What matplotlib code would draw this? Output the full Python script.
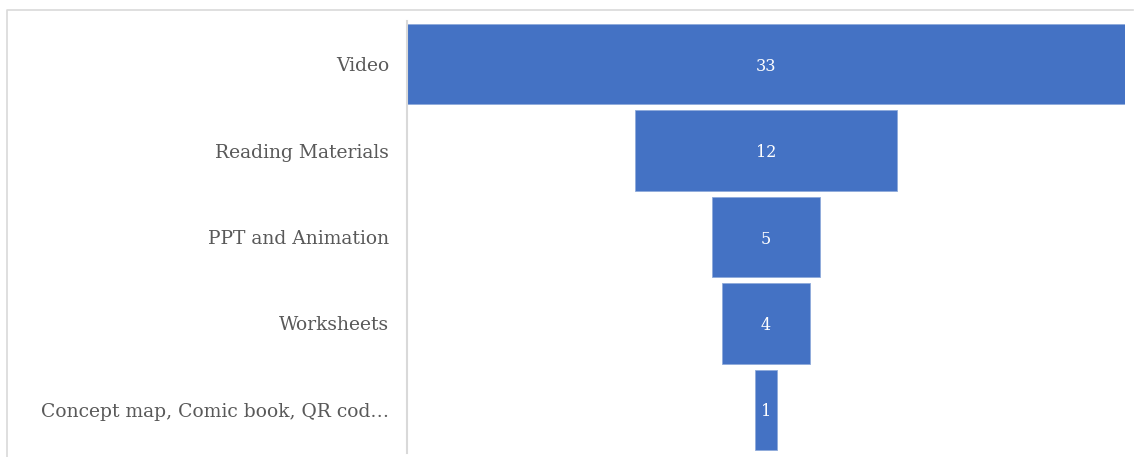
import matplotlib
matplotlib.use('Agg')
import matplotlib.pyplot as plt
from matplotlib.lines import Line2D

categories = ['Video', 'Reading Materials', 'PPT and Animation', 'Worksheets',
              'Concept map, Comic book, QR cod…']
counts = [33, 12, 5, 4, 1]

plt.rcParams['font.family'] = ['DejaVu Serif']

fig = plt.figure(figsize=(11.34, 4.57), dpi=100)
# outer frame (top and left edges only visible)
fig.lines.append(Line2D([7 / 1134, 7 / 1134, 1133 / 1134], [0, 1 - 10 / 457, 1 - 10 / 457],
                        transform=fig.transFigure, color='#d9d9d9', linewidth=1.2))

ax = fig.add_axes([407 / 1134, 4 / 457, 718 / 1134, 432 / 457])
y = list(range(len(categories)))
lefts = [-c / 2 for c in counts]
ax.barh(y, counts, left=lefts, height=0.93, color='#4472c4', edgecolor='#8eaadb', linewidth=0.6)
for yi, c in zip(y, counts):
    ax.text(0, yi, str(c), ha='center', va='center_baseline', color='white', fontsize=11.5)

ax.set_xlim(-16.5, 16.5)
ax.set_ylim(len(categories) - 0.5, -0.5)
ax.set_yticks(y)
ax.set_yticklabels(categories, fontsize=13.5, color='#595959')
ax.tick_params(axis='y', length=0, pad=13)
ax.set_xticks([])
for s in ['top', 'right', 'bottom']:
    ax.spines[s].set_visible(False)
ax.spines['left'].set_color('#d9d9d9')
ax.spines['left'].set_linewidth(1.5)

fig.savefig('out.png', dpi=100)
